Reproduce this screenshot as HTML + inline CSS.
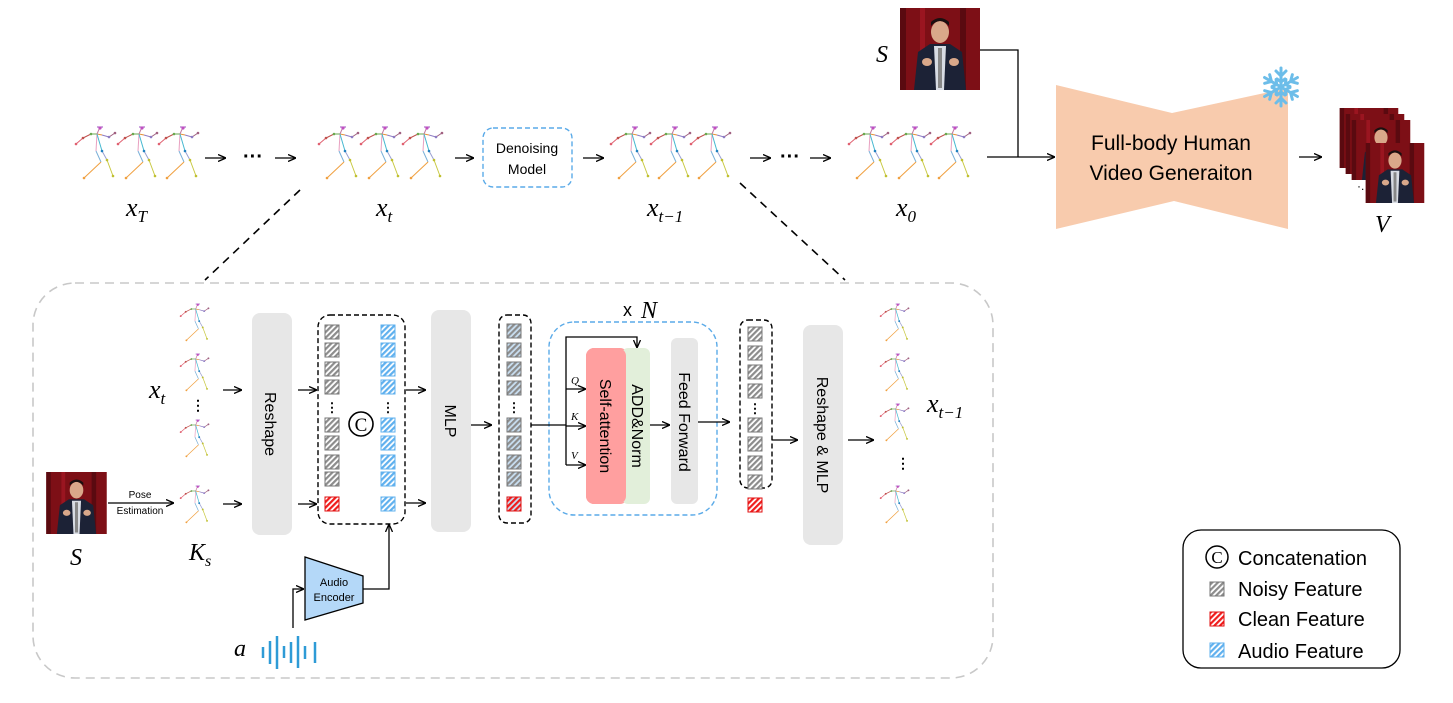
<!DOCTYPE html>
<html><head><meta charset="utf-8"><style>
html,body{margin:0;padding:0;background:#fff;}
svg{display:block;font-family:"Liberation Sans",sans-serif;}
.m{font-family:"Liberation Serif",serif;font-style:italic;}
</style></head><body>
<svg width="1453" height="703" viewBox="0 0 1453 703" xmlns="http://www.w3.org/2000/svg">
<defs>
<marker id="ar" markerWidth="8" markerHeight="8" refX="7" refY="4" orient="auto" markerUnits="userSpaceOnUse"><path d="M0,0.5 L8,4 L0,7.5" fill="none" stroke="#000" stroke-width="1.3"/></marker>
<pattern id="pg" width="4" height="4" patternUnits="userSpaceOnUse" patternTransform="rotate(45)"><rect width="4" height="4" fill="#fff"/><rect width="2.2" height="4" fill="#8c8c8c"/></pattern>
<pattern id="pr" width="4" height="4" patternUnits="userSpaceOnUse" patternTransform="rotate(45)"><rect width="4" height="4" fill="#fff"/><rect width="2.2" height="4" fill="#f01c1c"/></pattern>
<pattern id="pb" width="4" height="4" patternUnits="userSpaceOnUse" patternTransform="rotate(45)"><rect width="4" height="4" fill="#fff"/><rect width="2.2" height="4" fill="#5fb0ee"/></pattern>
<pattern id="pgb" width="4" height="4" patternUnits="userSpaceOnUse" patternTransform="rotate(45)"><rect width="4" height="4" fill="#c9dff2"/><rect width="2.2" height="4" fill="#8c8c8c"/></pattern>
<pattern id="prb" width="4" height="4" patternUnits="userSpaceOnUse" patternTransform="rotate(45)"><rect width="4" height="4" fill="#c9dff2"/><rect width="2.2" height="4" fill="#f01c1c"/></pattern>
<symbol id="sk" viewBox="0 0 45 56" overflow="visible">
<g stroke-width="1" fill="none">
<line x1="22" y1="9" x2="16" y2="9" stroke="#6aa84f"/><line x1="16" y1="9" x2="8" y2="13" stroke="#c0504d"/><line x1="8" y1="13" x2="1" y2="19" stroke="#e06070"/>
<line x1="22" y1="9" x2="27" y2="10" stroke="#e69138"/><line x1="27" y1="10" x2="34" y2="12" stroke="#8e7cc3"/><line x1="34" y1="12" x2="40" y2="8" stroke="#a06080"/>
<line x1="22" y1="9" x2="25" y2="2" stroke="#c27ba0"/><line x1="22" y1="2" x2="28" y2="2" stroke="#9b4fc0"/>
<line x1="22" y1="9" x2="21" y2="26" stroke="#e8a0c0"/><line x1="22" y1="9" x2="27" y2="26" stroke="#45b8d0"/>
<line x1="21" y1="26" x2="26" y2="37" stroke="#7bb0d8"/><line x1="26" y1="37" x2="9" y2="53" stroke="#f0a040"/>
<line x1="27" y1="26" x2="32" y2="35" stroke="#9aa0d0"/><line x1="32" y1="35" x2="38" y2="51" stroke="#c8c840"/>
</g>
<g>
<circle cx="16" cy="9" r="1.3" fill="#6aa84f"/><circle cx="8" cy="13" r="1.3" fill="#c0504d"/><circle cx="1" cy="19" r="1.3" fill="#e06070"/>
<circle cx="34" cy="12" r="1.3" fill="#8e7cc3"/><circle cx="40" cy="8" r="1.3" fill="#a06080"/><circle cx="25" cy="3" r="1.6" fill="#c050c0"/>
<circle cx="27" cy="26" r="1.3" fill="#2080c0"/><circle cx="32" cy="35" r="1.3" fill="#c0c030"/><circle cx="9" cy="53" r="1.3" fill="#f0a040"/><circle cx="38" cy="51" r="1.3" fill="#c0c030"/>
</g>
</symbol>
<symbol id="ph" viewBox="0 0 80 82">
<rect width="80" height="82" fill="#7d0f16"/>
<rect x="0" y="0" width="6" height="82" fill="#5a0a10"/><rect x="20" y="0" width="5" height="82" fill="#9a1520"/><rect x="60" y="0" width="6" height="82" fill="#5a0a10"/>
<path d="M14,82 L18,44 L30,36 L50,36 L62,44 L66,82 Z" fill="#1c2236"/>
<path d="M34,38 L46,38 L44,82 L36,82 Z" fill="#d8dce4"/>
<rect x="38" y="40" width="4" height="40" fill="#888"/>
<ellipse cx="40" cy="24" rx="9" ry="11" fill="#d9a88a"/>
<path d="M31,18 Q40,8 49,18 L49,14 Q40,6 31,14Z" fill="#1a1010"/>
<ellipse cx="27" cy="54" rx="5" ry="4" fill="#d9a88a"/><ellipse cx="54" cy="54" rx="5" ry="4" fill="#d9a88a"/>
</symbol>
</defs>

<!-- top row -->
<use href="#sk" x="75" y="125" width="45" height="56"/><use href="#sk" x="117" y="125" width="45" height="56"/><use href="#sk" x="158" y="125" width="45" height="56"/>
<line x1="205" y1="158" x2="225" y2="158" stroke="#000" stroke-width="1.3" marker-end="url(#ar)"/>
<text x="253" y="163" font-size="20" text-anchor="middle" font-weight="bold">···</text>
<line x1="275" y1="158" x2="295" y2="158" stroke="#000" stroke-width="1.3" marker-end="url(#ar)"/>
<text x="126" y="216" font-size="26" class="m">x<tspan font-size="17" dy="6">T</tspan></text>

<use href="#sk" x="318" y="125" width="45" height="56"/><use href="#sk" x="360" y="125" width="45" height="56"/><use href="#sk" x="402" y="125" width="45" height="56"/>
<text x="376" y="216" font-size="26" class="m">x<tspan font-size="17" dy="6">t</tspan></text>
<line x1="455" y1="158" x2="473" y2="158" stroke="#000" stroke-width="1.3" marker-end="url(#ar)"/>
<rect x="483" y="128" width="89" height="59" rx="10" fill="#fff" stroke="#5aaae8" stroke-width="1.4" stroke-dasharray="5,3"/>
<text x="527" y="153" font-size="14" text-anchor="middle">Denoising</text>
<text x="527" y="174" font-size="14" text-anchor="middle">Model</text>
<line x1="583" y1="158" x2="603" y2="158" stroke="#000" stroke-width="1.3" marker-end="url(#ar)"/>
<use href="#sk" x="610" y="125" width="45" height="56"/><use href="#sk" x="650" y="125" width="45" height="56"/><use href="#sk" x="690" y="125" width="45" height="56"/>
<text x="647" y="216" font-size="26" class="m">x<tspan font-size="17" dy="6">t−1</tspan></text>
<line x1="750" y1="158" x2="770" y2="158" stroke="#000" stroke-width="1.3" marker-end="url(#ar)"/>
<text x="790" y="163" font-size="20" text-anchor="middle" font-weight="bold">···</text>
<line x1="810" y1="158" x2="830" y2="158" stroke="#000" stroke-width="1.3" marker-end="url(#ar)"/>
<use href="#sk" x="848" y="125" width="45" height="56"/><use href="#sk" x="890" y="125" width="45" height="56"/><use href="#sk" x="930" y="125" width="45" height="56"/>
<text x="896" y="216" font-size="26" class="m">x<tspan font-size="17" dy="6">0</tspan></text>

<use href="#ph" x="900" y="8" width="80" height="82"/>
<text x="876" y="62" font-size="24" class="m">S</text>
<polyline points="980,50 1018,50 1018,157" fill="none" stroke="#000" stroke-width="1.3"/>
<line x1="987" y1="157" x2="1054" y2="157" stroke="#000" stroke-width="1.3" marker-end="url(#ar)"/>
<polygon points="1056,85 1172,113 1288,88 1288,229 1174,201 1056,229" fill="#f8cbad"/>
<text x="1171" y="150" font-size="21" text-anchor="middle">Full-body Human</text>
<text x="1171" y="180" font-size="21" text-anchor="middle">Video Generaiton</text>
<g transform="translate(1281,87)" stroke="#6cbde9" stroke-width="3" stroke-linecap="round" fill="none">
<g id="arm"><line x1="0" y1="0" x2="0" y2="-19"/><polyline points="-5,-16 0,-11 5,-16"/><polyline points="-4,-8 0,-5 4,-8"/></g>
<use href="#arm" transform="rotate(60)"/><use href="#arm" transform="rotate(120)"/><use href="#arm" transform="rotate(180)"/><use href="#arm" transform="rotate(240)"/><use href="#arm" transform="rotate(300)"/>
</g>
<line x1="1299" y1="157" x2="1321" y2="157" stroke="#000" stroke-width="1.3" marker-end="url(#ar)"/>
<use href="#ph" x="1338" y="108" width="62" height="60"/>
<use href="#ph" x="1344" y="114" width="62" height="60"/>
<use href="#ph" x="1350" y="120" width="62" height="60"/>
<text x="1357" y="190" font-size="12">·.</text>
<use href="#ph" x="1364" y="143" width="62" height="60"/>
<text x="1375" y="232" font-size="24" class="m">V</text>

<!-- dashed connectors -->
<line x1="300" y1="190" x2="205" y2="280" stroke="#000" stroke-width="1.6" stroke-dasharray="8,6"/>
<line x1="740" y1="183" x2="845" y2="280" stroke="#000" stroke-width="1.6" stroke-dasharray="8,6"/>
<rect x="33" y="283" width="960" height="395" rx="42" fill="none" stroke="#c8c8c8" stroke-width="1.6" stroke-dasharray="9,6"/>

<!-- bottom left -->
<use href="#sk" x="180" y="300" width="32" height="45"/><use href="#sk" x="180" y="350" width="32" height="45"/>
<text x="198" y="410" font-size="14" text-anchor="middle" font-weight="bold">⋮</text>
<use href="#sk" x="180" y="416" width="32" height="45"/><use href="#sk" x="180" y="482" width="32" height="45"/>
<text x="149" y="398" font-size="26" class="m">x<tspan font-size="17" dy="6">t</tspan></text>
<use href="#ph" x="46" y="472" width="61" height="62"/>
<text x="70" y="565" font-size="24" class="m">S</text>
<text x="140" y="498" font-size="10" text-anchor="middle">Pose</text>
<text x="140" y="514" font-size="10" text-anchor="middle">Estimation</text>
<line x1="108" y1="503" x2="173" y2="503" stroke="#000" stroke-width="1.3" marker-end="url(#ar)"/>
<text x="189" y="560" font-size="24" class="m">K<tspan font-size="16" dy="6">s</tspan></text>
<line x1="223" y1="390" x2="241" y2="390" stroke="#000" stroke-width="1.3" marker-end="url(#ar)"/>
<line x1="223" y1="504" x2="241" y2="504" stroke="#000" stroke-width="1.3" marker-end="url(#ar)"/>
<rect x="252" y="313" width="40" height="222" rx="8" fill="#e7e7e7"/>
<text transform="translate(265,424) rotate(90)" font-size="16" text-anchor="middle">Reshape</text>
<line x1="298" y1="390" x2="316" y2="390" stroke="#000" stroke-width="1.3" marker-end="url(#ar)"/>
<line x1="298" y1="504" x2="316" y2="504" stroke="#000" stroke-width="1.3" marker-end="url(#ar)"/>
<rect x="318" y="315" width="87" height="209" rx="12" fill="none" stroke="#000" stroke-width="1.4" stroke-dasharray="5,3"/>
<g stroke-width="1">
<g stroke="#777" fill="url(#pg)">
<rect x="325" y="325" width="14" height="14"/><rect x="325" y="343" width="14" height="14"/><rect x="325" y="362" width="14" height="14"/><rect x="325" y="380" width="14" height="14"/>
<rect x="325" y="418" width="14" height="14"/><rect x="325" y="436" width="14" height="14"/><rect x="325" y="455" width="14" height="14"/><rect x="325" y="472" width="14" height="14"/>
</g>
<rect x="325" y="497" width="14" height="14" stroke="#e01010" fill="url(#pr)"/>
<g stroke="#5fb0ee" fill="url(#pb)">
<rect x="381" y="325" width="14" height="14"/><rect x="381" y="343" width="14" height="14"/><rect x="381" y="362" width="14" height="14"/><rect x="381" y="380" width="14" height="14"/>
<rect x="381" y="418" width="14" height="14"/><rect x="381" y="436" width="14" height="14"/><rect x="381" y="455" width="14" height="14"/><rect x="381" y="472" width="14" height="14"/><rect x="381" y="497" width="14" height="14"/>
</g></g>
<text x="332" y="412" font-size="13" text-anchor="middle" font-weight="bold">⋮</text>
<text x="388" y="412" font-size="13" text-anchor="middle" font-weight="bold">⋮</text>
<circle cx="361" cy="424" r="12" fill="none" stroke="#000" stroke-width="1.6"/>
<text x="361" y="431" font-size="19" text-anchor="middle" font-family="Liberation Serif">C</text>
<line x1="406" y1="390" x2="425" y2="390" stroke="#000" stroke-width="1.3" marker-end="url(#ar)"/>
<line x1="406" y1="503" x2="425" y2="503" stroke="#000" stroke-width="1.3" marker-end="url(#ar)"/>
<rect x="431" y="310" width="40" height="222" rx="8" fill="#e7e7e7"/>
<text transform="translate(445,421) rotate(90)" font-size="16" text-anchor="middle">MLP</text>

<polygon points="305,557 363,576 363,603 305,620" fill="#b4d8f8" stroke="#000" stroke-width="1.3"/>
<text x="334" y="586" font-size="11" text-anchor="middle">Audio</text>
<text x="334" y="601" font-size="11" text-anchor="middle">Encoder</text>
<polyline points="363,589 389,589 389,525" fill="none" stroke="#000" stroke-width="1.3" marker-end="url(#ar)"/>
<polyline points="293,628 293,589 303,589" fill="none" stroke="#000" stroke-width="1.3" marker-end="url(#ar)"/>
<text x="234" y="656" font-size="24" class="m">a</text>
<g stroke="#2e9bd6" stroke-width="2.5">
<line x1="263" y1="647" x2="263" y2="658"/><line x1="270" y1="641" x2="270" y2="664"/><line x1="277" y1="636" x2="277" y2="669"/><line x1="284" y1="646" x2="284" y2="658"/><line x1="291" y1="642" x2="291" y2="663"/><line x1="298" y1="636" x2="298" y2="668"/><line x1="305" y1="646" x2="305" y2="659"/><line x1="315" y1="642" x2="315" y2="663"/>
</g>

<!-- middle -->
<line x1="471" y1="425" x2="491" y2="425" stroke="#000" stroke-width="1.3" marker-end="url(#ar)"/>
<rect x="499" y="315" width="32" height="208" rx="8" fill="none" stroke="#000" stroke-width="1.4" stroke-dasharray="5,3"/>
<g stroke="#777" fill="url(#pgb)" stroke-width="1">
<rect x="507" y="324" width="14" height="14"/><rect x="507" y="343" width="14" height="14"/><rect x="507" y="362" width="14" height="14"/><rect x="507" y="381" width="14" height="14"/>
<rect x="507" y="418" width="14" height="14"/><rect x="507" y="436" width="14" height="14"/><rect x="507" y="455" width="14" height="14"/><rect x="507" y="472" width="14" height="14"/>
</g>
<rect x="507" y="497" width="14" height="14" stroke="#e01010" fill="url(#prb)"/>
<text x="514" y="412" font-size="13" text-anchor="middle" font-weight="bold">⋮</text>

<text x="632" y="316" font-size="18" text-anchor="end">x</text>
<text x="641" y="318" font-size="24" class="m">N</text>
<rect x="549" y="322" width="168" height="193" rx="25" fill="none" stroke="#5aaae8" stroke-width="1.4" stroke-dasharray="5,3"/>
<rect x="586" y="348" width="42" height="156" rx="8" fill="#ff9f9f"/>
<rect x="622" y="348" width="28" height="156" rx="6" fill="#e2efda"/>
<rect x="586" y="348" width="40" height="156" rx="8" fill="#ff9f9f"/>
<rect x="671" y="338" width="27" height="166" rx="6" fill="#e7e7e7"/>
<text transform="translate(600,426) rotate(90)" font-size="16" text-anchor="middle">Self-attention</text>
<text transform="translate(632,426) rotate(90)" font-size="16" text-anchor="middle">ADD&amp;Norm</text>
<text transform="translate(679,422) rotate(90)" font-size="16" text-anchor="middle">Feed Forward</text>
<line x1="531" y1="425" x2="566" y2="425" stroke="#000" stroke-width="1.3"/>
<polyline points="566,465 566,337 637,337 637,347" fill="none" stroke="#000" stroke-width="1.3" marker-end="url(#ar)"/>
<line x1="566" y1="389" x2="585" y2="389" stroke="#000" stroke-width="1.3" marker-end="url(#ar)"/>
<line x1="566" y1="426" x2="585" y2="426" stroke="#000" stroke-width="1.3" marker-end="url(#ar)"/>
<line x1="566" y1="465" x2="585" y2="465" stroke="#000" stroke-width="1.3" marker-end="url(#ar)"/>
<text x="571" y="384" font-size="11" class="m">Q</text>
<text x="571" y="420" font-size="11" class="m">K</text>
<text x="571" y="459" font-size="11" class="m">V</text>
<line x1="650" y1="425" x2="669" y2="425" stroke="#000" stroke-width="1.3" marker-end="url(#ar)"/>
<line x1="698" y1="422" x2="729" y2="422" stroke="#000" stroke-width="1.3" marker-end="url(#ar)"/>

<rect x="740" y="320" width="32" height="168" rx="8" fill="none" stroke="#000" stroke-width="1.4" stroke-dasharray="5,3"/>
<g stroke="#777" fill="url(#pg)" stroke-width="1">
<rect x="748" y="327" width="14" height="14"/><rect x="748" y="346" width="14" height="14"/><rect x="748" y="365" width="14" height="14"/><rect x="748" y="384" width="14" height="14"/>
<rect x="748" y="418" width="14" height="14"/><rect x="748" y="437" width="14" height="14"/><rect x="748" y="456" width="14" height="14"/><rect x="748" y="475" width="14" height="14"/>
</g>
<rect x="748" y="498" width="14" height="14" stroke="#e01010" fill="url(#pr)"/>
<text x="755" y="413" font-size="13" text-anchor="middle" font-weight="bold">⋮</text>
<line x1="772" y1="440" x2="797" y2="440" stroke="#000" stroke-width="1.3" marker-end="url(#ar)"/>
<rect x="803" y="325" width="40" height="220" rx="8" fill="#e7e7e7"/>
<text transform="translate(817,435) rotate(90)" font-size="16" text-anchor="middle">Reshape &amp; MLP</text>
<line x1="848" y1="440" x2="873" y2="440" stroke="#000" stroke-width="1.3" marker-end="url(#ar)"/>
<use href="#sk" x="880" y="300" width="32" height="45"/><use href="#sk" x="880" y="350" width="32" height="45"/><use href="#sk" x="880" y="400" width="32" height="45"/>
<text x="903" y="468" font-size="14" text-anchor="middle" font-weight="bold">⋮</text>
<use href="#sk" x="880" y="482" width="32" height="45"/>
<text x="927" y="412" font-size="26" class="m">x<tspan font-size="17" dy="6">t−1</tspan></text>

<!-- legend -->
<rect x="1183" y="530" width="217" height="138" rx="18" fill="#fff" stroke="#000" stroke-width="1.3"/>
<circle cx="1217" cy="557" r="11" fill="none" stroke="#000" stroke-width="1.5"/>
<text x="1217" y="563" font-size="17" text-anchor="middle" font-family="Liberation Serif">C</text>
<text x="1238" y="565" font-size="20">Concatenation</text>
<rect x="1210" y="582" width="14" height="14" stroke="#777" fill="url(#pg)"/>
<text x="1238" y="596" font-size="20">Noisy Feature</text>
<rect x="1210" y="612" width="14" height="14" stroke="#e01010" fill="url(#pr)"/>
<text x="1238" y="626" font-size="20">Clean Feature</text>
<rect x="1210" y="643" width="14" height="14" stroke="#5fb0ee" fill="url(#pb)"/>
<text x="1238" y="658" font-size="20">Audio Feature</text>
</svg>
</body></html>
